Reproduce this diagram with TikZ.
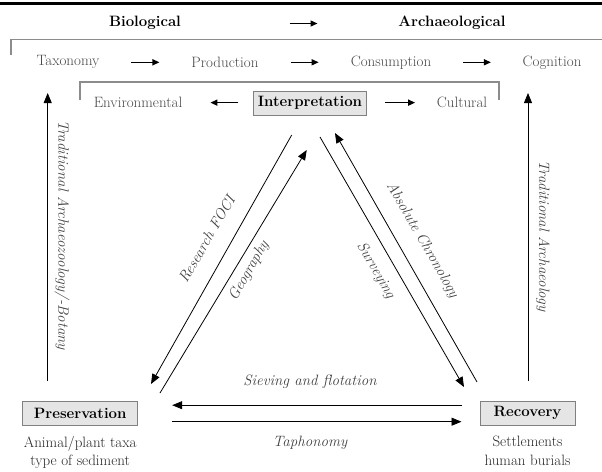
\documentclass[tikz,border=0pt]{standalone}
\usetikzlibrary{arrows.meta,positioning,calc}
\begin{document}
\begin{tikzpicture}[
  x=1pt,y=-1pt,
  every node/.style={font=\fontsize{15}{18.7}\selectfont},
  head/.style={font=\fontsize{15}{18.7}\selectfont\bfseries},
  stage/.style={text=black!72},
  box/.style={draw=black!50, fill=black!10, line width=1pt, minimum height=24pt,
    font=\fontsize{15}{18.7}\selectfont\bfseries},
  sub/.style={text=black!85, align=center, inner sep=1pt},
  note/.style={font=\fontsize{15}{18.7}\selectfont\itshape, text=black!75},
  flow/.style={-{Triangle[length=10pt,width=8pt]}, line width=0.8pt},
  link/.style={-{Triangle[length=7pt,width=6pt]}, line width=1.4pt},
  brace/.style={draw=black!45, line width=1.2pt}
]
\useasboundingbox (0,0) rectangle (602,471);
\draw[line width=2.2pt] (0,3.5) -- (602,3.5);

% headings
\node[head] (bio) at (145,22.7) {Biological};
\node[head] (arch) at (452,22.7) {Archaeological};
\draw[link] ($(bio)!.5!(arch)+(5,0.8)$) +(-14,0) -- +(14,0);

% first row
\draw[brace] (11,55) |- (602,39.3);
\node[stage] (tax) at (68,62.3) {Taxonomy};
\node[stage] (prod) at (225,62.3) {Production};
\node[stage] (cons) at (391,62.3) {Consumption};
\node[stage] (cog) at (552,62.3) {Cognition};
\draw[link] ($(tax.east)!.5!(prod.west)$) +(-14,0) -- +(14,0);
\draw[link] ($(prod.east)!.5!(cons.west)$) +(-14,0) -- +(14,0);
\draw[link] ($(cons.east)!.5!(cog.west)$) +(-14,0) -- +(14,0);

% second row
\draw[brace] (80,100) |- (499,82) -- (499,100);
\node[box, minimum width=113pt] (interp) at (310,103.3) {Interpretation};
\node[stage] (env) at (138,102) {Environmental};
\node[stage] (cult) at (462,102) {Cultural};
\draw[link] ($(interp.west)!.5!(env.east)+(5,0)$) +(14,0) -- +(-14,0);
\draw[link] ($(interp.east)!.5!(cult.west)$) +(-15,0) -- +(15,0);

% corners
\node[box, minimum width=115pt] (pres) at (80.2,413.2) {Preservation};
\node[box, minimum width=95pt] (rec) at (527.5,413.2) {Recovery};
\node[sub, below=9pt of pres] (pres-txt) {Animal/plant taxa\\type of sediment};
\node[sub, below=9pt of rec] (rec-txt) {Settlements\\human burials};

% bottom pair
\draw[flow] ([shift={(-18pt,8pt)}]rec.west) -- ([shift={(34pt,8pt)}]pres.east);
\draw[flow] ([shift={(34pt,-8.5pt)}]pres.east) -- ([shift={(-18pt,-8.5pt)}]rec.west);
\node[note] (sieve) at (310,381.7) {Sieving and flotation};
\node[note] (taph) at (310,442.5) {Taphonomy};

% side arrows
\coordinate (lb) at (47.7,381);
\coordinate (lt) at (47.7,93);
\coordinate (rb) at (528,381);
\coordinate (rt) at (528,93);
\draw[flow] (lb) -- (lt);
\draw[flow] (rb) -- (rt);
\node[note, rotate=-90] (trad-l) at (62,235) {Traditional Archaeozoology/-Botany};
\node[note, rotate=-90] (trad-r) at (543,236) {Traditional Archaeology};

% diagonals
\coordinate (rf1) at (291.7,135);
\coordinate (rf2) at (151,384);
\coordinate (ge1) at (160,393);
\coordinate (ge2) at (306.7,150);
\coordinate (su1) at (320,137);
\coordinate (su2) at (464,387);
\coordinate (ab1) at (477,382);
\coordinate (ab2) at (335,133);
\draw[flow] (rf1) -- (rf2);
\draw[flow] (ge1) -- (ge2);
\draw[flow] (su1) -- (su2);
\draw[flow] (ab1) -- (ab2);
\node[note, rotate=60] (foci) at (206.7,239) {Research FOCI};
\node[note, rotate=60] (geo) at (249,270.7) {Geography};
\node[note, rotate=-60] (surv) at (375.7,270.7) {Surveying};
\node[note, rotate=-60] (chron) at (422.3,240) {Absolute Chronology};
\end{tikzpicture}
\end{document}
